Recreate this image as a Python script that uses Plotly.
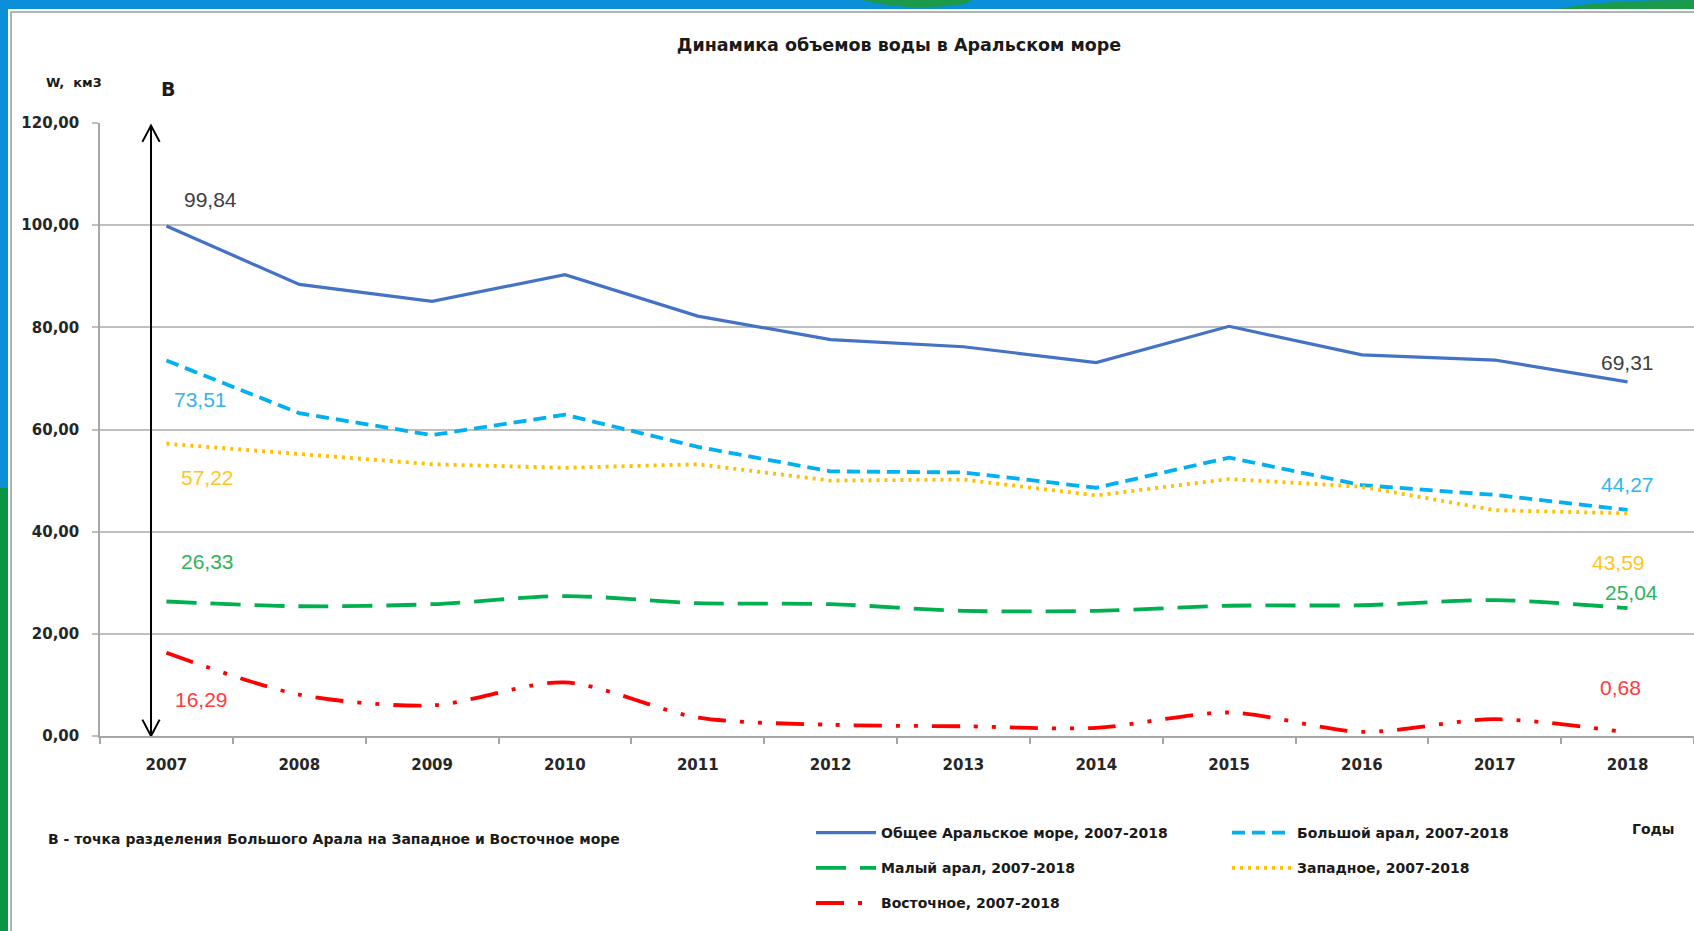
import plotly.graph_objects as go

# ---------------- data ----------------
years = ["2007", "2008", "2009", "2010", "2011", "2012",
         "2013", "2014", "2015", "2016", "2017", "2018"]
total = [99.84, 88.4, 85.1, 90.3, 82.2, 77.6, 76.2, 73.1, 80.2, 74.6, 73.6, 69.31]
big_aral = [73.51, 63.2, 58.9, 62.9, 56.6, 51.8, 51.6, 48.6, 54.5, 49.1, 47.2, 44.27]
west = [57.22, 55.2, 53.2, 52.5, 53.2, 50.0, 50.2, 47.1, 50.3, 48.8, 44.2, 43.59]
small_aral = [26.33, 25.4, 25.8, 27.4, 26.0, 25.8, 24.5, 24.5, 25.5, 25.6, 26.6, 25.04]
east = [16.29, 8.1, 6.0, 10.5, 3.6, 2.2, 1.9, 1.6, 4.6, 0.8, 3.3, 0.68]

names = {
    "total": "Общее Аральское море, 2007-2018",
    "big": "Большой арал, 2007-2018",
    "small": "Малый арал, 2007-2018",
    "west": "Западное, 2007-2018",
    "east": "Восточное, 2007-2018",
}
y_ticks = [0, 20, 40, 60, 80, 100, 120]
y_tick_labels = ["0,00", "20,00", "40,00", "60,00", "80,00", "100,00", "120,00"]

title_text = "Динамика объемов воды в Аральском море"
y_title = "W,  км3"
x_title = "Годы"
point_label = "В"
note_text = "В - точка разделения Большого Арала на Западное и Восточное море"

# ---------------- geometry helpers ----------------
W, H = 1694, 931
ML, MR, MT, MB = 100, 0, 123, 195
PW = W - ML - MR
PH = H - MT - MB


def px(x):
    return (x - ML) / PW


def py(y):
    return (MT + PH - y) / PH


FONT = "DejaVu Sans"
LFONT = "Liberation Sans"

fig = go.Figure()

series = [
    ("total", total, "#4472C4", "solid", "linear", 3.2, "legend"),
    ("small", small_aral, "#00B050", "30px,14px", "spline", 3.8, "legend"),
    ("east", east, "#FF0000", "28px,14px,4px,14px,4px,14px", "spline", 3.8, "legend"),
    ("big", big_aral, "#00B0F0", "13px,7px", "linear", 3.8, "legend2"),
    ("west", west, "#FFC000", "3px,5px", "linear", 3.8, "legend2"),
]
for key, vals, col, dash, shape, w, leg in series:
    fig.add_trace(go.Scatter(
        x=years, y=vals, mode="lines", name=names[key],
        line=dict(color=col, dash=dash, shape=shape, width=w, smoothing=0.8),
        legend=leg, legendgroup=key, hoverinfo="skip",
    ))

# data labels (first and last value of each series)
label_style = [
    (total, 0, "#404040", 44, 26),
    (big_aral, 0, "#33B4EE", 34, -39),
    (west, 0, "#FFC526", 41, -34),
    (small_aral, 0, "#2EB45A", 41, 40),
    (east, 0, "#FF3B3B", 35, -47),
    (total, 11, "#404040", 0, 19),
    (big_aral, 11, "#33B4EE", 0, 25),
    (west, 11, "#FFC526", -9, -49),
    (small_aral, 11, "#2EB45A", 4, 16),
    (east, 11, "#FF3B3B", -7, 45),
]
annotations = []
for vals, i, col, dx, dy in label_style:
    annotations.append(dict(
        x=i, y=vals[i], xref="x", yref="y",
        text=f"{vals[i]:.2f}".replace(".", ","), showarrow=False,
        xanchor="center", yanchor="middle",
        xshift=dx, yshift=dy, font=dict(family=LFONT, size=21, color=col),
    ))

annotations += [
    dict(x=px(74), y=py(83), xref="paper", yref="paper", text=y_title,
         xanchor="center", yanchor="middle",
         showarrow=False, font=dict(family=FONT, size=13, color="#1a1a1a", weight="bold")),
    dict(x=px(168), y=py(89), xref="paper", yref="paper", text=point_label,
         xanchor="center", yanchor="middle",
         showarrow=False, font=dict(family=FONT, size=19, color="#1a1a1a", weight="bold")),
    dict(x=px(1653), y=py(829), xref="paper", yref="paper", text=x_title,
         xanchor="center", yanchor="middle",
         showarrow=False, font=dict(family=FONT, size=14, color="#1a1a1a", weight="bold")),
    dict(x=px(46), y=py(839), xref="paper", yref="paper", text=note_text,
         xanchor="left", yanchor="middle", showarrow=False,
         font=dict(family=FONT, size=14, color="#1a1a1a", weight="bold")),
]

# double-headed arrow at point "В"
ax_x = -0.116
shapes = [
    dict(type="line", xref="x", yref="y", x0=ax_x, x1=ax_x, y0=0.2, y1=119.3,
         line=dict(color="#000000", width=2)),
    dict(type="path", xref="x", yref="y",
         path=f"M {ax_x-0.065},116.3 L {ax_x},119.5 L {ax_x+0.065},116.3",
         line=dict(color="#000000", width=2)),
    dict(type="path", xref="x", yref="y",
         path=f"M {ax_x-0.065},3.2 L {ax_x},0 L {ax_x+0.065},3.2",
         line=dict(color="#000000", width=2)),
]

# slide background decorations and chart frame
bg = [
    dict(type="rect", xref="paper", yref="paper", x0=px(0), x1=px(W), y0=py(0), y1=py(9),
         fillcolor="#0A8FD8", line=dict(width=0), layer="below"),
    dict(type="rect", xref="paper", yref="paper", x0=px(0), x1=px(8), y0=py(0), y1=py(488),
         fillcolor="#0A8FD8", line=dict(width=0), layer="below"),
    dict(type="rect", xref="paper", yref="paper", x0=px(0), x1=px(8), y0=py(488), y1=py(H),
         fillcolor="#0A9444", line=dict(width=0), layer="below"),
    dict(type="path", xref="paper", yref="paper",
         path=f"M {px(862)},{py(0)} Q {px(905)},{py(12)} {px(965)},{py(4)} L {px(972)},{py(0)} Z",
         fillcolor="#1B9A4A", line=dict(width=0), layer="below"),
    dict(type="path", xref="paper", yref="paper",
         path=f"M {px(1556)},{py(9)} Q {px(1600)},{py(0)} {px(1694)},{py(0)} L {px(1694)},{py(9)} Z",
         fillcolor="#1B9A4A", line=dict(width=0), layer="below"),
    dict(type="rect", xref="paper", yref="paper", x0=px(11), x1=px(W + 5), y0=py(12), y1=py(H + 5),
         fillcolor="rgba(0,0,0,0)", line=dict(color="#9A9A9A", width=1.5), layer="below"),
]

fig.update_layout(
    width=W, height=H,
    margin=dict(l=ML, r=MR, t=MT, b=MB, pad=0),
    paper_bgcolor="#FFFFFF", plot_bgcolor="#FFFFFF",
    title=dict(text=title_text, x=899 / W, xanchor="center", y=1 - 45 / H, yanchor="middle",
               font=dict(family=FONT, size=17.5, color="#1a1a1a", weight="bold")),
    xaxis=dict(type="category", range=[-0.5, 11.5], showgrid=False, zeroline=False,
               showline=True, linecolor="#A6A6A6", linewidth=1.5,
               ticks="outside", tickson="boundaries", ticklen=6, tickcolor="#A6A6A6",
               tickwidth=1.5, ticklabelstandoff=14,
               tickfont=dict(family=FONT, size=15, color="#262626", weight="bold")),
    yaxis=dict(range=[0, 120], tickvals=y_ticks, ticktext=y_tick_labels,
               showgrid=True, gridcolor="#BFBFBF", gridwidth=1.6, zeroline=False,
               showline=True, linecolor="#A6A6A6", linewidth=1.5,
               ticks="outside", ticklen=6, tickcolor="#BFBFBF", tickwidth=1.5,
               ticklabelstandoff=10,
               tickfont=dict(family=FONT, size=15, color="#262626", weight="bold")),
    legend=dict(x=px(811), y=py(817), xanchor="left", yanchor="top",
                orientation="v", tracegroupgap=14, itemwidth=60,
                bgcolor="rgba(0,0,0,0)",
                font=dict(family=FONT, size=14, color="#1a1a1a", weight="bold")),
    legend2=dict(x=px(1227), y=py(817), xanchor="left", yanchor="top",
                 orientation="v", tracegroupgap=14, itemwidth=60,
                 bgcolor="rgba(0,0,0,0)",
                 font=dict(family=FONT, size=14, color="#1a1a1a", weight="bold")),
    annotations=annotations,
    shapes=bg + shapes,
    showlegend=True,
)

fig.write_html("out.html", config={"displayModeBar": False},
               post_script="document.body.style.margin='0';document.body.style.overflow='hidden';")
